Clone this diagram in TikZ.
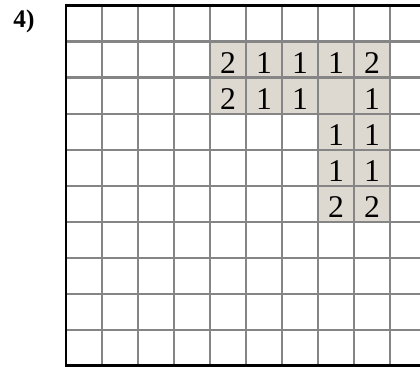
\documentclass[tikz,border=0pt]{standalone}
\usepackage{fontspec}
\setmainfont{Liberation Serif}
\usetikzlibrary{positioning}
\definecolor{cellshade}{HTML}{DDD8D0}
\definecolor{gridgray}{HTML}{858585}

\begin{document}
\begin{tikzpicture}[num/.style={inner sep=0pt, font=\fontsize{25}{25}\selectfont}]
  \useasboundingbox (-1.833,-0.02) rectangle (9.833,10.153);
  \node[inner sep=0pt, font=\fontsize{20}{20}\selectfont\bfseries] (label) at (-1.167, 9.57) {4)};
  % shaded cells
  \fill[cellshade] (4,7) rectangle (9,9);
  \fill[cellshade] (7,4) rectangle (9,7);
  \draw[gridgray, line width=1.6pt] (0,0) grid (10,10);
  \draw[line width=2.3pt] (10,10) -- (0,10) -- (0,0) -- (10,0);
  % numbers: column/row/value
  \foreach \c/\r/\v in {4/8/2, 5/8/1, 6/8/1, 7/8/1, 8/8/2,
                        4/7/2, 5/7/1, 6/7/1, 8/7/1,
                        7/6/1, 8/6/1, 7/5/1, 8/5/1, 7/4/2, 8/4/2}
    \node[num] (n\c-\r) at (\c+0.5, \r+0.4) {\v};
\end{tikzpicture}
\end{document}
